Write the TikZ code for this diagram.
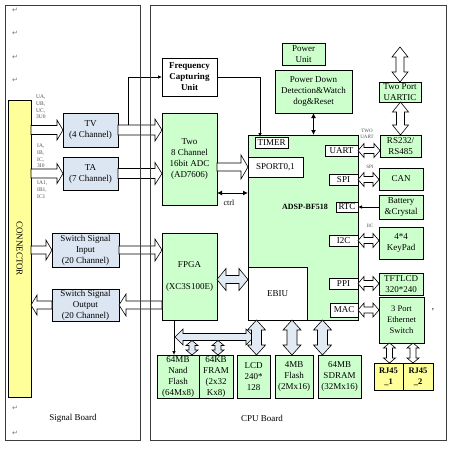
\documentclass[tikz,border=0pt]{standalone}
\usepackage{fontspec}
\setmainfont{Liberation Serif}
\newfontfamily\djv{DejaVu Sans}
\usetikzlibrary{arrows.meta,calc}
\definecolor{grn}{RGB}{204,255,204}
\definecolor{blu}{RGB}{220,230,242}
\definecolor{yel}{RGB}{255,255,153}
\definecolor{arf}{RGB}{226,234,244}
\definecolor{frm}{RGB}{60,60,60}
\newcommand\bx[7]{\node[#6, minimum width={(#4-#2)*1pt}, minimum height={(#5-#3)*1pt}] (#1) at ({(#2+#4)/2},{(#3+#5)/2}) {#7};}
% single arrow pointing right/left: #2 start, #3 tip (y taken from #3); #4 shaft half, #5 head half, #6 head length
\newcommand\blkR[6][]{\draw[blkar,#1] let \p1=#2, \p2=#3 in (\x1,\y2+#4pt) -- (\x2-#6pt,\y2+#4pt) -- (\x2-#6pt,\y2+#5pt) -- (\x2,\y2) -- (\x2-#6pt,\y2-#5pt) -- (\x2-#6pt,\y2-#4pt) -- (\x1,\y2-#4pt) -- cycle;}
\newcommand\blkL[6][]{\draw[blkar,#1] let \p1=#2, \p2=#3 in (\x1,\y2+#4pt) -- (\x2+#6pt,\y2+#4pt) -- (\x2+#6pt,\y2+#5pt) -- (\x2,\y2) -- (\x2+#6pt,\y2-#5pt) -- (\x2+#6pt,\y2-#4pt) -- (\x1,\y2-#4pt) -- cycle;}
\newcommand\blkH[6][]{\draw[blkar,#1] let \p1=#2, \p2=#3 in (\x1,\y2) -- (\x1+#6pt,\y2+#5pt) -- (\x1+#6pt,\y2+#4pt) -- (\x2-#6pt,\y2+#4pt) -- (\x2-#6pt,\y2+#5pt) -- (\x2,\y2) -- (\x2-#6pt,\y2-#5pt) -- (\x2-#6pt,\y2-#4pt) -- (\x1+#6pt,\y2-#4pt) -- (\x1+#6pt,\y2-#5pt) -- cycle;}
\newcommand\blkV[6][]{\draw[blkar,#1] let \p1=#2, \p2=#3 in (\x2,\y1) -- (\x2+#5pt,\y1-#6pt) -- (\x2+#4pt,\y1-#6pt) -- (\x2+#4pt,\y2+#6pt) -- (\x2+#5pt,\y2+#6pt) -- (\x2,\y2) -- (\x2-#5pt,\y2+#6pt) -- (\x2-#4pt,\y2+#6pt) -- (\x2-#4pt,\y1-#6pt) -- (\x2-#5pt,\y1-#6pt) -- cycle;}
\tikzset{
  box/.style={draw, line width=0.6pt, inner sep=0pt, outer sep=0pt, align=center, font=\fontsize{9}{11}\selectfont},
  board/.style={draw=frm, line width=0.8pt, inner sep=0pt},
  blkar/.style={draw, fill=white, line width=0.6pt, line join=miter},
  tip/.style={line width=0.7pt, -{Latex[length=4pt,width=3.5pt]}},
  dblk/.style={line width=1pt, {Latex[length=5pt,width=5pt]}-{Latex[length=5pt,width=5pt]}},
  sm/.style={text=black!70, inner sep=0pt, align=left, font=\fontsize{5.5}{6.8}\selectfont},
  lbl/.style={inner sep=0pt, font=\fontsize{9}{11}\selectfont},
  pm/.style={text=black!55, inner sep=0pt, font=\djv\fontsize{7}{8}\selectfont}
}
\begin{document}
\begin{tikzpicture}[x=1pt,y=-1pt]
\useasboundingbox (0,0) rectangle (450,448);
% Signal board content
\bx{conn}{8}{100}{31}{397}{box,fill=yel}{}
\node[lbl, rotate=-90] (connt) at (conn.center) {CONNECTOR};
\bx{tv}{63}{113}{118}{147}{box,fill=blu}{TV\\(4 Channel)}
\bx{ta}{63}{157}{118}{190}{box,fill=blu}{TA\\(7 Channel)}
\bx{swi}{52}{233}{119}{267}{box,fill=blu}{Switch Signal\\Input\\(20 Channel)}
\bx{swo}{52}{289}{119}{321}{box,fill=blu}{Switch Signal\\Output\\(20 Channel)}
\node[sm, anchor=west] (lu) at (36,107) {UA,\\UB,\\UC,\\3U0};
\node[sm, anchor=west] (li) at (37,156) {IA,\\IB,\\IC,\\3I0};
\node[sm, anchor=west] (li1) at (37,190) {IA1,\\IB1,\\IC1};
% CPU board content
\bx{freq}{162}{58}{217}{96}{box,fill=white,font=\bfseries\fontsize{9}{11}\selectfont}{Frequency\\Capturing\\Unit}
\bx{adc}{162}{113}{217}{205}{box,fill=grn}{Two\\8 Channel\\16bit ADC\\(AD7606)}
\bx{fpga}{162}{233}{217}{320}{box,fill=grn}{FPGA\\[11pt](XC3S100E)}
\bx{pu}{282}{43}{325}{65}{box,fill=grn}{Power\\Unit}
\bx{pd}{275}{70}{352}{113}{box,fill=grn}{Power Down\\Detection\&Watch\\dog\&Reset}
\bx{adsp}{248}{135}{358}{320}{box,fill=grn}{}
\node[inner sep=0pt, font=\bfseries\fontsize{8}{10}\selectfont] (adspt) at (305,207) {ADSP-BF518};
\bx{timer}{255}{137}{288}{148}{box,fill=white}{TIMER}
\bx{sport}{248}{157}{303}{177}{box,fill=white}{SPORT0,1}
\bx{uart}{325}{145}{358}{156}{box,fill=white}{UART}
\bx{spi}{329}{174}{358}{185}{box,fill=white}{SPI}
\bx{rtc}{336}{202}{358}{212}{box,fill=white}{RTC}
\bx{i2c}{329}{235}{358}{246}{box,fill=white}{I2C}
\bx{ppi}{329}{278}{358}{289}{box,fill=white}{PPI}
\bx{mac}{330}{303}{358}{317}{box,fill=white}{MAC}
\bx{ebiu}{248}{267}{307}{320}{box,fill=white}{EBIU}
\bx{uartic}{379}{82}{421}{102}{box,fill=grn}{Two Port\\UARTIC}
\bx{rs}{380}{135}{421}{157}{box,fill=grn}{RS232/\\RS485}
\bx{can}{379}{168}{423}{190}{box,fill=grn}{CAN}
\bx{bat}{379}{195}{423}{219}{box,fill=grn}{Battery\\\&Crystal}
\bx{kp}{379}{227}{423}{259}{box,fill=grn}{4*4\\KeyPad}
\bx{tft}{379}{273}{423}{295}{box,fill=grn}{TFTLCD\\320*240}
\bx{eth}{379}{297}{424}{343}{box,fill=grn,font=\fontsize{8.5}{11}\selectfont}{3 Port\\Ethernet\\Switch}
\bx{rj1}{374}{363}{403}{390}{box,fill=yel,font=\bfseries\fontsize{8.5}{11}\selectfont}{RJ45\\\_1}
\bx{rj2}{403}{363}{433}{390}{box,fill=yel,font=\bfseries\fontsize{8.5}{11}\selectfont}{RJ45\\\_2}
\bx{nand}{157}{355}{199}{398}{box,fill=grn}{64MB\\Nand\\Flash\\(64Mx8)}
\bx{fram}{199}{355}{233}{398}{box,fill=grn}{64KB\\FRAM\\(2x32\\Kx8)}
\bx{lcd}{237}{355}{270}{398}{box,fill=grn}{LCD\\240*\\128}
\bx{flash}{275}{355}{313}{398}{box,fill=grn}{4MB\\Flash\\(2Mx16)}
\bx{sdram}{318}{355}{361}{398}{box,fill=grn}{64MB\\SDRAM\\(32Mx16)}
% signal arrows
\blkR{(conn.east)}{(tv.west)}{4.5}{10}{6}
\blkR{(conn.east)}{(ta.west)}{4.5}{10}{6}
\blkR{(conn.east)}{(swi.west)}{4}{10}{6}
\blkL{(swo.west)}{(conn.east |- swo.west)}{4}{10}{6}
\blkR{(tv.east)}{(adc.west |- tv.east)}{5}{11}{7}
\blkR{(ta.east)}{(adc.west |- ta.east)}{5}{11}{7}
\blkR{(swi.east)}{(fpga.west |- swi.east)}{4}{11}{7}
\blkL{(fpga.west |- swo.east)}{(swo.east)}{4}{11}{7}
\blkR{(adc.east |- sport.west)}{(sport.west)}{4}{12}{7}
\coordinate (fe) at ([yshift=-3pt]fpga.east);
\blkH[fill=arf]{(fe)}{(fe -| ebiu.west)}{4}{11}{9}
% frequency path
\coordinate (fb) at (128,125);
\draw[tip] (fb) |- (freq.west);
\coordinate (t1) at ([xshift=5pt]timer.north west);
\draw[tip] (freq.east) -| (t1);
% ctrl
\coordinate (c1) at ([yshift=-34pt]adc.east);
\draw[dblk] (c1) -- (c1 -| adsp.west);
\node[lbl, font=\fontsize{8}{10}\selectfont] (ctrlt) at (229,203) {ctrl};
% power down
\draw[dblk] (pd.south) -- (pd.south |- adsp.north);
% right side
\coordinate (utop) at (400,47);
\blkV{(utop)}{(uartic.north)}{4}{8}{10}
\blkV{(uartic.south)}{(rs.north)}{4}{8}{10}
\blkH{(uart.east)}{(rs.west |- uart.east)}{3}{7}{6}
\blkH{(spi.east)}{(can.west |- spi.east)}{3}{7}{6}
\draw[tip] (bat.west) -- (bat.west -| rtc.east);
\blkH{(i2c.east)}{(kp.west |- i2c.east)}{3}{7}{6}
\blkH{(ppi.east)}{(tft.west |- ppi.east)}{3}{7}{6}
\blkH{(mac.east)}{(eth.west |- mac.east)}{3}{7}{6}
\coordinate (r1) at ([xshift=1pt]rj1.north);
\coordinate (r2) at ([xshift=-5pt]rj2.north);
\blkV{(r1 |- eth.south)}{(r1)}{3}{6}{5}
\blkV{(r2 |- eth.south)}{(r2)}{3}{6}{5}
\node[sm, align=center, font=\fontsize{5}{6.5}\selectfont] (twou) at (367,134) {TWO\\UART};
\node[sm, font=\fontsize{5}{6}\selectfont] (spil) at (370,167) {SPI};
\node[sm, font=\fontsize{5}{6}\selectfont] (iicl) at (370,226) {IIC};
% memory bus
\coordinate (f1) at ([xshift=12pt]fpga.south west);
\draw[tip] (f1) -- (f1 |- nand.north);
\coordinate (busL) at (175,337);
\coordinate (busR) at (254,337);
\blkH[fill=arf]{(busL)}{(busR)}{3.5}{8}{8}
\coordinate (b1) at (192,340.5);
\coordinate (b2) at (218,340.5);
\blkV[fill=arf]{(b1)}{(b1 |- nand.north)}{3}{6}{5}
\blkV[fill=arf]{(b2)}{(b2 |- fram.north)}{3}{6}{5}
\coordinate (v1) at ([xshift=3pt]lcd.north);
\coordinate (v2) at ([xshift=-2pt]flash.north);
\coordinate (v3) at ([xshift=-17pt]sdram.north);
\blkV[fill=arf]{(v1 |- adsp.south)}{(v1)}{5}{9}{10}
\blkV[fill=arf]{(v2 |- adsp.south)}{(v2)}{5}{9}{10}
\blkV[fill=arf]{(v3 |- adsp.south)}{(v3)}{5}{9}{10}
% boards
\bx{sb}{5}{5}{140}{440}{board}{}
\bx{cb}{150}{5}{446}{440}{board}{}
\node[lbl] (sbt) at (73,418) {Signal Board};
\node[lbl] (cbt) at (262,418) {CPU Board};
% paragraph marks
\node[pm] (m1) at (15,10) {↵};
\node[pm] (m2) at (15,33) {↵};
\node[pm] (m3) at (15,57) {↵};
\node[pm] (m4) at (15,80) {↵};
\node[pm] (m5) at (15,408) {↵};
\node[pm] (m6) at (15,433) {↵};
\node[lbl] (comma) at (433,310) {,};
\end{tikzpicture}
\end{document}
